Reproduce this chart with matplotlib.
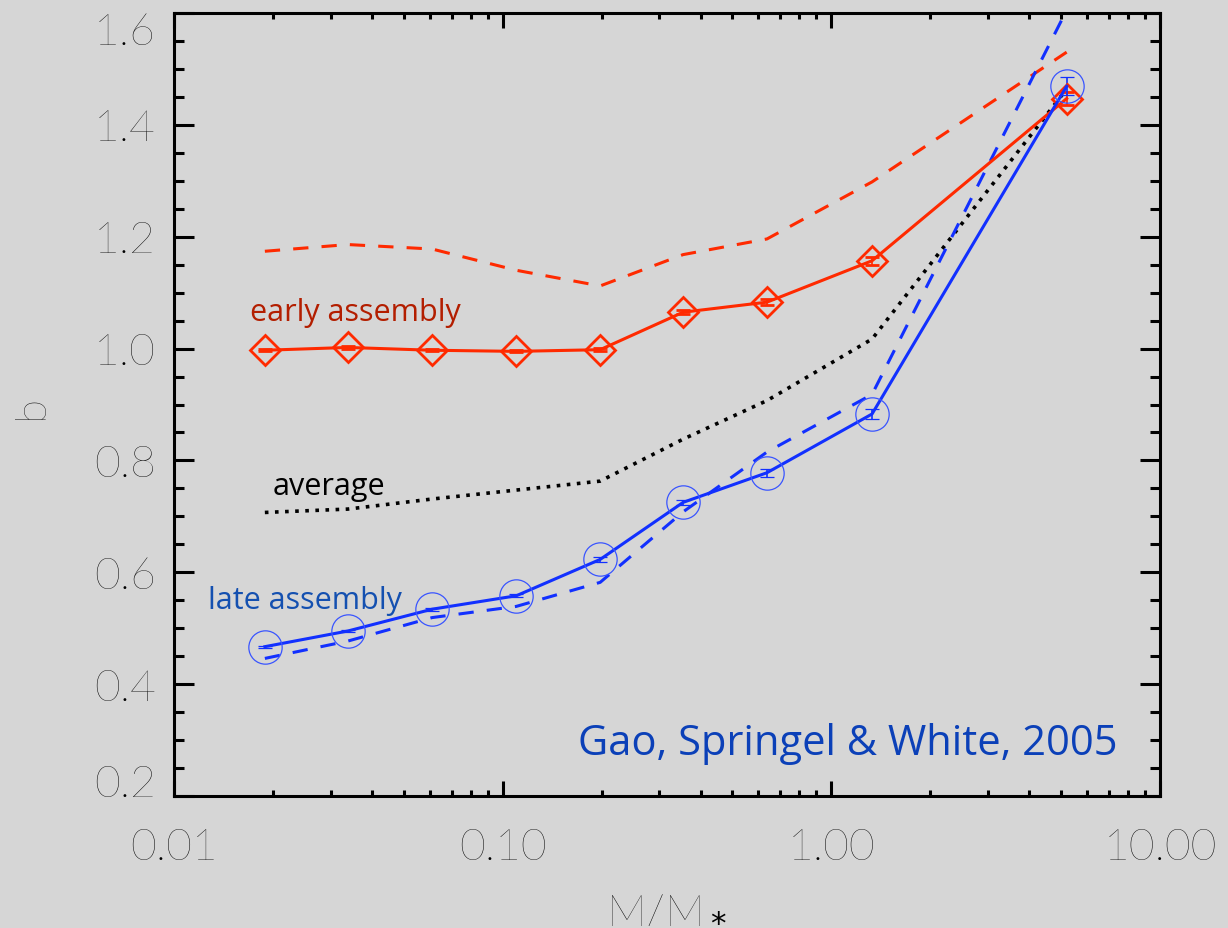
import numpy as np
import matplotlib
matplotlib.use('Agg')
import matplotlib.pyplot as plt
from matplotlib.ticker import LogLocator, MultipleLocator, NullFormatter

# halo mass in units of M_*, one bin per marker
mass = [0.0189, 0.0338, 0.0610, 0.110, 0.198, 0.354, 0.637, 1.33, 5.2]

# bias of the oldest / youngest 20% of haloes (symbols with error bars)
b_early = [0.997, 1.002, 0.997, 0.995, 0.998, 1.065, 1.083, 1.157, 1.447]
b_early_err = [0.002, 0.002, 0.002, 0.002, 0.003, 0.004, 0.005, 0.007, 0.012]
b_late = [0.467, 0.495, 0.534, 0.558, 0.623, 0.725, 0.778, 0.883, 1.469]
b_late_err = [0.002, 0.002, 0.003, 0.003, 0.004, 0.005, 0.007, 0.009, 0.016]

# dashed curves: the 10% tails
b_early_tail = [1.174, 1.186, 1.178, 1.140, 1.112, 1.168, 1.196, 1.298, 1.53]
b_late_tail = [0.446, 0.477, 0.519, 0.539, 0.582, 0.708, 0.815, 0.918, 1.605]

# all haloes
b_all = [0.707, 0.713, 0.731, 0.747, 0.763, 0.838, 0.907, 1.017, 1.464]

xticks = [0.01, 0.1, 1.0, 10.0]
xticklabels = ['0.01', '0.10', '1.00', '10.00']
yticks = [0.2, 0.4, 0.6, 0.8, 1.0, 1.2, 1.4, 1.6]

bg = '#d6d6d6'
red = '#ff2a00'
blue = '#1230ff'
axis_txt = '#000000'

plt.rcParams['font.family'] = ['Lato', 'DejaVu Sans']
note_font = ['Open Sans', 'DejaVu Sans']

fig = plt.figure(figsize=(12.28, 9.29), dpi=100, facecolor=bg)
ax = fig.add_axes([174 / 1228, 132 / 929, 986 / 1228, 783 / 929], facecolor=bg)
ax.set_xscale('log')

ax.plot(mass, b_all, color='black', lw=2.6, ls=(0, (1.0, 1.8)))
ax.plot(mass, b_early_tail, color=red, lw=2.2, ls=(0, (5, 4.3)))
ax.plot(mass, b_late_tail, color=blue, lw=2.2, ls=(0, (5, 4.3)))

ax.errorbar(mass, b_early, yerr=b_early_err, color=red, lw=2.2,
            marker='D', ms=15, mfc='none', mec=red, mew=2.0,
            elinewidth=1.2, capsize=4.7, capthick=1.2)
ax.errorbar(mass, b_late, yerr=b_late_err, color=blue, lw=2.2,
            marker='o', ms=24, mfc='none', mec='#3a55ff', mew=0.9,
            elinewidth=1.2, capsize=4.7, capthick=1.2)

ax.set_xlim(0.01, 10)
ax.set_ylim(0.2, 1.6)

ax.set_xticks(xticks)
ax.set_xticklabels(xticklabels)
ax.xaxis.set_minor_locator(LogLocator(base=10, subs=np.arange(2, 10)))
ax.xaxis.set_minor_formatter(NullFormatter())
ax.set_yticks(yticks)
ax.set_yticklabels(['%.1f' % v for v in yticks])
ax.yaxis.set_minor_locator(MultipleLocator(0.05))

ax.tick_params(which='both', direction='in', top=True, right=True,
               width=2.2, color='black', labelsize=32, labelcolor=axis_txt)
ax.tick_params(axis='x', which='major', length=11, pad=23)
ax.tick_params(axis='x', which='minor', length=4.5)
ax.tick_params(axis='y', which='major', length=14.4, pad=13)
ax.tick_params(axis='y', which='minor', length=7.2)
for lbl in ax.get_xticklabels() + ax.get_yticklabels():
    lbl.set_fontweight('light')

# keep the end labels inside the frame height
yt = ax.yaxis.get_major_ticks()
yt[0].label1.set_va('baseline')
yt[-1].label1.set_va('top')

for sp in ax.spines.values():
    sp.set_linewidth(2.2)

fig.text(31 / 1228, 1 - 407 / 929, 'b', rotation=90, ha='center', va='center',
         fontsize=32, fontweight='light', color=axis_txt)
fig.text(0.543, 1 - 921 / 929, r'M/M$_*$', ha='center', va='baseline',
         fontsize=32, fontweight='light', color=axis_txt)

ax.text(0.0170, 1.051, 'early assembly', color='#b31e00', fontsize=22,
        family=note_font, ha='left', va='baseline')
ax.text(0.0200, 0.7395, 'average', color='black', fontsize=22,
        family=note_font, ha='left', va='baseline')
ax.text(0.01269, 0.537, 'late assembly', color='#1450b0', fontsize=22,
        family=note_font, ha='left', va='baseline')
ax.text(0.957, 0.0536, 'Gao, Springel & White, 2005', color='#0b40b8',
        fontsize=30, family=note_font, ha='right', va='baseline',
        transform=ax.transAxes)

fig.savefig('out.png', dpi=100, facecolor=bg)
